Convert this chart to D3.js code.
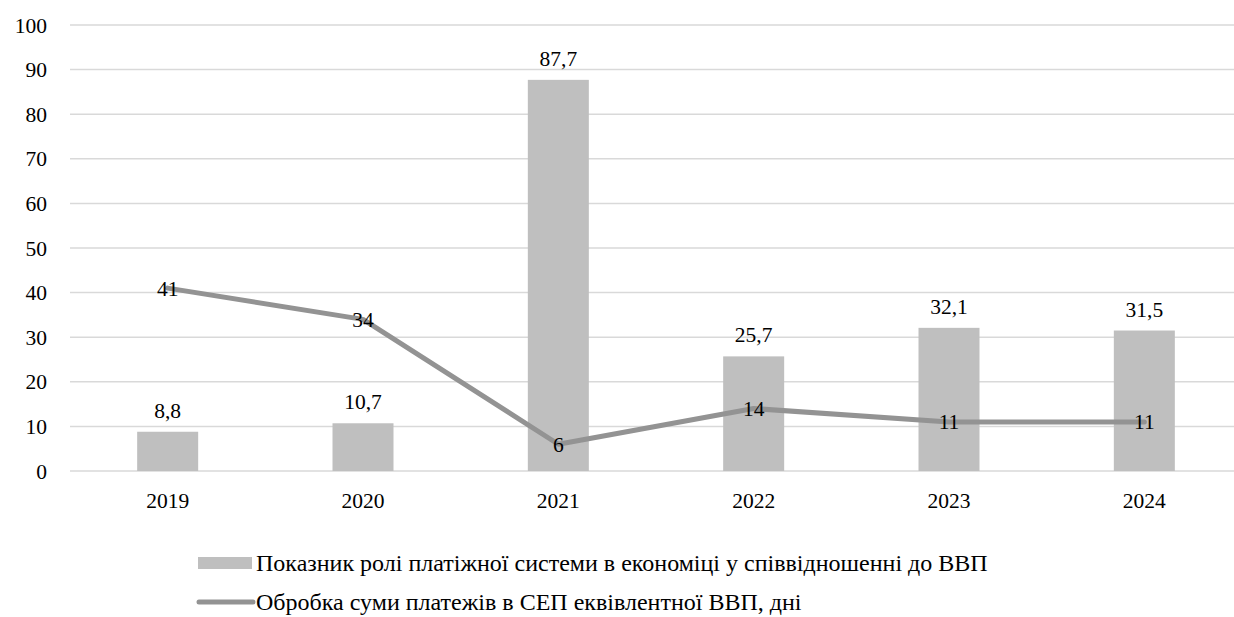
<!DOCTYPE html>
<html>
<head>
<meta charset="utf-8">
<script src="https://cdn.jsdelivr.net/npm/d3@7"></script>
<style>
  body { margin: 0; background: #fff; }
  svg text { font-family: "Times New Roman", "Liberation Serif", "DejaVu Serif", serif; }
</style>
</head>
<body>
<svg id="chart" width="1234" height="617"></svg>
<script>
// chart data
var years = ["2019", "2020", "2021", "2022", "2023", "2024"];
var roleValues = [8.8, 10.7, 87.7, 25.7, 32.1, 31.5];
var daysValues = [41, 34, 6, 14, 11, 11];
var yTicks = [0, 10, 20, 30, 40, 50, 60, 70, 80, 90, 100];
var seriesNames = [
    "Показник ролі платіжної системи в економіці у співвідношенні до ВВП",
    "Обробка суми платежів в СЕП еквівлентної ВВП, дні"
];

var svg = d3.select("#chart");
var barFill = "#bfbfbf", lineStroke = "#939393", gridStroke = "#d9d9d9";
var fontSize = "21.5px";
var fmt = function (v) { return String(v).replace(".", ","); };

var x = d3.scaleBand().domain(years).range([70, 1242]);
var y = d3.scaleLinear().domain([0, 100]).range([471, 25]);
var barW = 61;

// grid
svg.append("g").selectAll("line").data(yTicks).join("line")
    .attr("x1", 70).attr("x2", 1242)
    .attr("y1", function (d) { return y(d); }).attr("y2", function (d) { return y(d); })
    .attr("stroke", gridStroke).attr("stroke-width", 1.5);

// y tick labels
svg.append("g").selectAll("text").data(yTicks).join("text")
    .attr("x", 47).attr("y", function (d) { return y(d); })
    .attr("dy", "0.35em").attr("text-anchor", "end")
    .attr("font-size", fontSize)
    .text(function (d) { return d; });

// x tick labels
svg.append("g").selectAll("text").data(years).join("text")
    .attr("x", function (d) { return x(d) + x.bandwidth() / 2; })
    .attr("y", 508).attr("text-anchor", "middle")
    .attr("font-size", fontSize)
    .text(function (d) { return d; });

// bars
svg.append("g").selectAll("rect").data(roleValues).join("rect")
    .attr("x", function (d, i) { return x(years[i]) + x.bandwidth() / 2 - barW / 2; })
    .attr("width", barW)
    .attr("y", function (d) { return y(d); })
    .attr("height", function (d) { return y(0) - y(d); })
    .attr("fill", barFill);

// bar labels
svg.append("g").selectAll("text").data(roleValues).join("text")
    .attr("x", function (d, i) { return x(years[i]) + x.bandwidth() / 2; })
    .attr("y", function (d) { return y(d) - 14; })
    .attr("text-anchor", "middle")
    .attr("font-size", fontSize)
    .text(fmt);

// line
var line = d3.line()
    .x(function (d, i) { return x(years[i]) + x.bandwidth() / 2; })
    .y(function (d) { return y(d); });
svg.append("path").datum(daysValues)
    .attr("d", line)
    .attr("fill", "none").attr("stroke", lineStroke)
    .attr("stroke-width", 5).attr("stroke-linecap", "round").attr("stroke-linejoin", "round");

// line labels (centred on points)
svg.append("g").selectAll("text").data(daysValues).join("text")
    .attr("x", function (d, i) { return x(years[i]) + x.bandwidth() / 2; })
    .attr("y", function (d) { return y(d); })
    .attr("dy", "0.35em").attr("text-anchor", "middle")
    .attr("font-size", fontSize)
    .text(fmt);

// legend
var lg = svg.append("g").attr("font-size", "24px");
lg.append("rect").attr("x", 198).attr("y", 557).attr("width", 54).attr("height", 12).attr("fill", barFill);
lg.append("text").attr("x", 256).attr("y", 563).attr("dy", "0.35em").text(seriesNames[0]);
lg.append("line").attr("x1", 199).attr("x2", 253).attr("y1", 602).attr("y2", 602)
    .attr("stroke", lineStroke).attr("stroke-width", 5).attr("stroke-linecap", "round");
lg.append("text").attr("x", 256).attr("y", 602).attr("dy", "0.35em").text(seriesNames[1]);
</script>
</body>
</html>
